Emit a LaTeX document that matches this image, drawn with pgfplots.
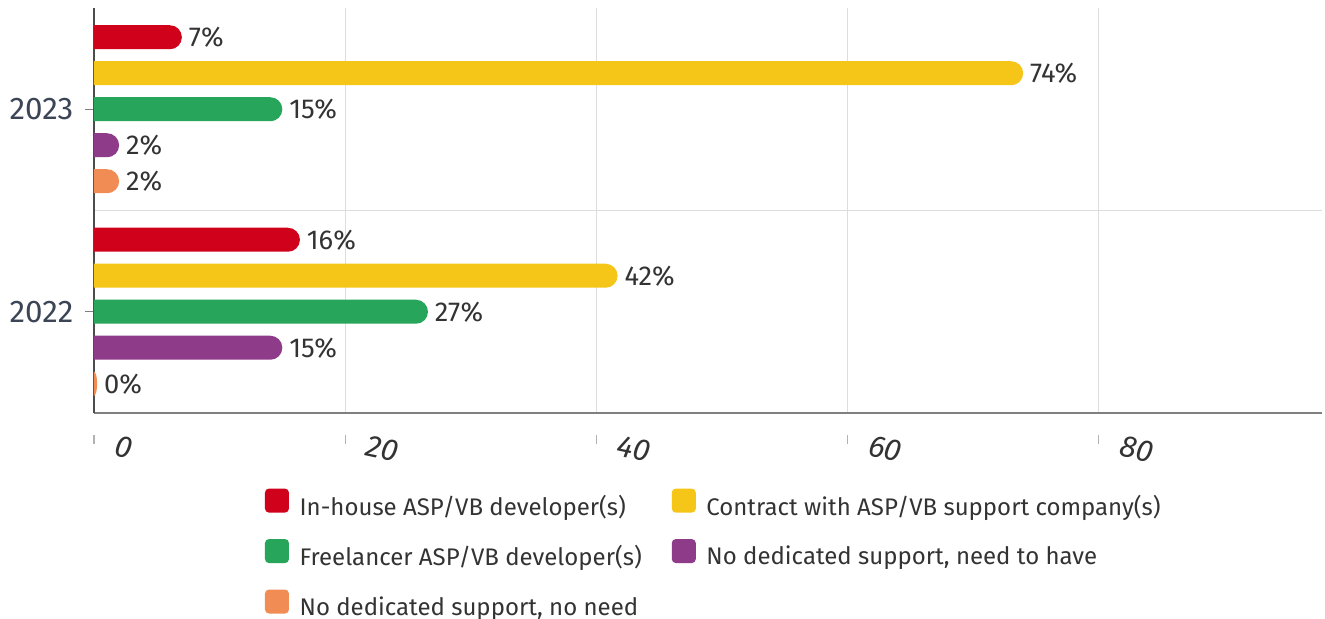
\documentclass[border=0pt]{standalone}
\usepackage{fontspec}
\setmainfont{Fira Sans}
\usepackage{pgfplots}
\pgfplotsset{compat=1.18}
\definecolor{cRed}{HTML}{D0021B}
\definecolor{cYel}{HTML}{F5C518}
\definecolor{cGrn}{HTML}{27A55B}
\definecolor{cPur}{HTML}{8E3B8A}
\definecolor{cOrg}{HTML}{F28C55}
\definecolor{txt}{HTML}{333333}
\definecolor{ylab}{HTML}{3B4556}
\definecolor{gridc}{HTML}{DDDDDD}
\makeatletter
\newif\ifpill
\newdimen\pillxa \newdimen\pillya \newdimen\pillyb \newdimen\pillw
\newdimen\pillh \newdimen\pillr \newdimen\pillxs \newdimen\pillxr
\let\origpgfpathrectangle\pgfpathrectangle
\def\pgfpathrectangle#1#2{\ifpill\pill@rect{#1}{#2}\else\origpgfpathrectangle{#1}{#2}\fi}
\def\pill@rect#1#2{%
  \pgf@process{#1}\pillxa=\pgf@x \pillya=\pgf@y
  \pgf@process{#2}\pillw=\pgf@x \pillh=\pgf@y
  \ifdim\pillh<0pt \advance\pillya by\pillh \pillh=-\pillh \fi
  \ifdim\pillw<0pt \advance\pillxa by\pillw \pillw=-\pillw \fi
  \pillr=0.5\pillh
  \pillyb=\pillya \advance\pillyb by\pillh
  \ifdim\pillw<\pillr
    \pillxr=\pillw \pillxs=\pillxa
  \else
    \pillxr=\pillr \pillxs=\pillxa \advance\pillxs by\pillw \advance\pillxs by-\pillr
  \fi
  \ifdim\pillxr<0.05pt \pillxr=0.05pt\fi
  \edef\pill@rad{\the\pillxr\space and \the\pillr}%
  \pgfpathmoveto{\pgfqpoint{\pillxa}{\pillya}}%
  \pgfpathlineto{\pgfqpoint{\pillxs}{\pillya}}%
  \expandafter\pgfpatharc\expandafter{\expandafter-\expandafter9\expandafter0\expandafter}\expandafter{\expandafter9\expandafter0\expandafter}\expandafter{\pill@rad}%
  \pgfpathlineto{\pgfqpoint{\pillxa}{\pillyb}}%
  \pgfpathclose
}
\makeatother
\pgfplotsset{
  pill/.style={fill=#1, draw=none, /utils/exec=\pilltrue,
    legend image code/.code={\pillfalse\fill[#1, draw=none, rounded corners=3pt] (0pt,-5pt) rectangle (18pt,13pt);}},
}
\begin{document}
\begin{tikzpicture}
\begin{axis}[
  width=921pt, height=303.75pt, scale only axis,
  xmin=0, xmax=97.8, ymin=-0.5, ymax=1.5,
  axis x line*=bottom, axis y line*=left,
  x axis line style={draw=gray, line width=1.1pt},
  y axis line style={draw=black!70, line width=0.9pt},
  xbar, bar width=18pt,
  ytick={0,1}, yticklabels={2022,2023},
  xtick={0,20,40,60,80},
  minor ytick={0.5}, yminorgrids, xmajorgrids,
  major grid style={draw=gridc, line width=0.8pt},
  minor grid style={draw=gridc, line width=0.8pt},
  tick align=outside, major tick length=6.5pt, minor tick length=0pt,
  xtick style={draw=gray!60, line width=0.8pt, yshift=-16.5pt},
  ytick style={draw=gray, line width=0.8pt},
  /pgf/number format/assume math mode=true,
  yticklabel style={font=\fontsize{23.5}{28}\selectfont, text=ylab, xshift=-5.5pt},
  xticklabel style={font=\fontsize{23}{27}\selectfont\itshape, text=txt, rotate=-12, anchor=north west, inner sep=0pt, xshift=19.5pt, yshift=-6pt},
  point meta=x,
  nodes near coords={\pgfmathprintnumber[fixed,precision=0]{\pgfplotspointmeta}\%},
  nodes near coords style={font=\fontsize{20.5}{24}\selectfont, text=txt, anchor=west, inner sep=0pt, xshift=5pt, /utils/exec=\pillfalse},
  legend columns=2,
  legend style={draw=none, fill=none, at={(0.139,-0.186)}, anchor=north west,
    inner sep=0pt, row sep=14.5pt, font=\fontsize{18}{22}\selectfont, text=txt,
    /tikz/every odd column/.append style={column sep=6pt},
    /tikz/every even column/.append style={column sep=20.5pt},
    cells={anchor=west}},
]
\addplot[pill=cRed, bar shift=54pt] coordinates {(16.4,0) (7,1)};
\addlegendentry{In-house ASP/VB developer(s)}
\addplot[pill=cYel, bar shift=27pt] coordinates {(41.7,0) (74,1)};
\addlegendentry{Contract with ASP/VB support company(s)}
\addplot[pill=cGrn, bar shift=0pt] coordinates {(26.6,0) (15,1)};
\addlegendentry{Freelancer ASP/VB developer(s)}
\addplot[pill=cPur, bar shift=-27pt] coordinates {(15,0) (2,1)};
\addlegendentry{No dedicated support, need to have}
\addplot[pill=cOrg, bar shift=-54pt] coordinates {(0.25,0) (2,1)};
\addlegendentry{No dedicated support, no need}
\end{axis}
\pgfresetboundingbox
\path ([xshift=-70.5pt,yshift=-154.5pt]current axis.south west) rectangle ([xshift=2.25pt,yshift=6pt]current axis.north east);
\end{tikzpicture}
\end{document}
